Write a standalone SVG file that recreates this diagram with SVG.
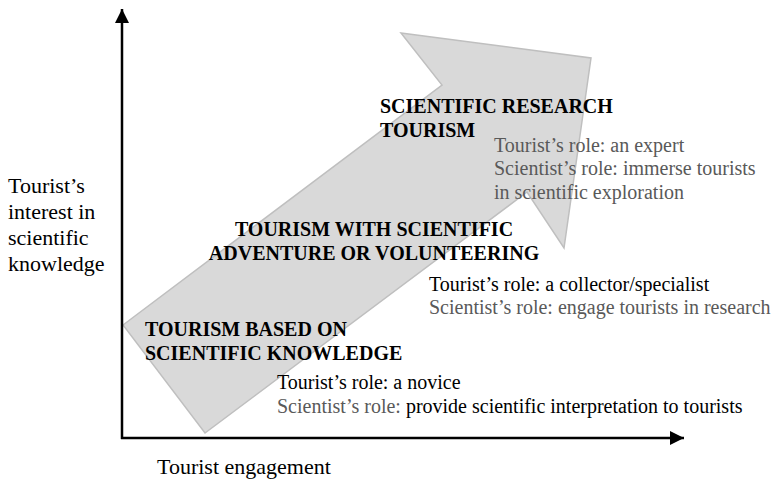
<svg xmlns="http://www.w3.org/2000/svg" width="776" height="483" viewBox="0 0 776 483">
<style>
text{font-family:"Liberation Serif","Times New Roman",serif;font-size:20px;fill:#000}
.b{font-weight:bold}
.g{fill:#595959}
.ax{font-size:22px}
</style>
<defs>
<marker id="ah" markerWidth="14" markerHeight="14" refX="14" refY="7" orient="auto" markerUnits="userSpaceOnUse">
<path d="M0,0 L14,7 L0,14 Z" fill="#000"/>
</marker>
</defs>
<rect width="776" height="483" fill="#fff"/>
<polygon id="arrow" points="123,325 442,85 401,33 591,58 564,248 527,192 205,433" fill="#d9d9d9" stroke="#bfbfbf" stroke-width="1.5"/>
<g id="connectors">
<line x1="122" y1="439" x2="122" y2="9" stroke="#000" stroke-width="2.5" marker-end="url(#ah)"/>
<line x1="121" y1="438" x2="684" y2="438" stroke="#000" stroke-width="2.5" marker-end="url(#ah)"/>
</g>
<g id="y-label">
<text class="ax" x="8" y="193">Tourist’s</text>
<text class="ax" x="8" y="219">interest in</text>
<text class="ax" x="8" y="245">scientific</text>
<text class="ax" x="8" y="271">knowledge</text>
</g>
<g id="x-label">
<text class="ax" x="157" y="474">Tourist engagement</text>
</g>
<g id="node-research">
<text class="b" x="380" y="113">SCIENTIFIC RESEARCH</text>
<text class="b" x="380" y="137">TOURISM</text>
<text class="g" x="494" y="152">Tourist’s role: an expert</text>
<text class="g" x="494" y="175">Scientist’s role: immerse tourists</text>
<text class="g" x="494" y="199">in scientific exploration</text>
</g>
<g id="node-adventure">
<text class="b" x="374" y="236" text-anchor="middle">TOURISM WITH SCIENTIFIC</text>
<text class="b" x="374" y="260" text-anchor="middle">ADVENTURE OR VOLUNTEERING</text>
<text x="429" y="291">Tourist’s role: a collector/specialist</text>
<text class="g" x="429" y="314">Scientist’s role: engage tourists in research</text>
</g>
<g id="node-knowledge">
<text class="b" x="145" y="336">TOURISM BASED ON</text>
<text class="b" x="145" y="360">SCIENTIFIC KNOWLEDGE</text>
<text x="277" y="389">Tourist’s role: a novice</text>
<text x="277" y="413"><tspan class="g">Scientist’s role:</tspan> provide scientific interpretation to tourists</text>
</g>
</svg>
